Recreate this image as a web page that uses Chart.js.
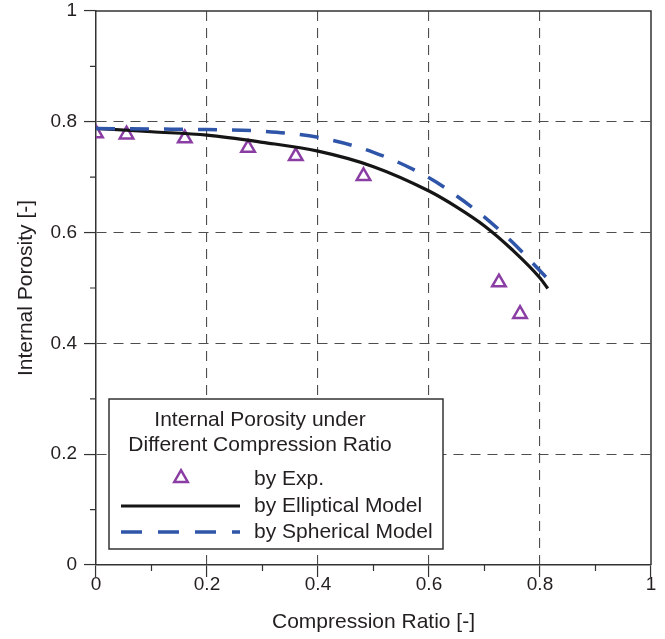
<!DOCTYPE html>
<html>
<head>
<meta charset="utf-8">
<title>Internal Porosity vs Compression Ratio</title>
<script src="https://cdn.jsdelivr.net/npm/chart.js@4/dist/chart.umd.min.js"></script>
<style>
    body { margin: 0; background: #fff; }
    canvas { display: block; }
</style>
</head>
<body>
<canvas id="porosityChart" width="665" height="639"></canvas>
<script>
// Measured points
const expRatio = [0, 0.055, 0.160, 0.274, 0.360, 0.482, 0.726, 0.764];
const expPorosity = [0.779, 0.777, 0.770, 0.753, 0.738, 0.702, 0.510, 0.453];

// Model curves
const ellipRatio = [0, 0.1, 0.2, 0.3, 0.4, 0.5, 0.6, 0.65, 0.7, 0.75, 0.8, 0.814];
const ellipPorosity = [0.788, 0.782, 0.776, 0.763, 0.747, 0.719, 0.675, 0.646, 0.612, 0.569, 0.518, 0.499];
const spherRatio = [0, 0.1, 0.2, 0.3, 0.4, 0.5, 0.6, 0.65, 0.7, 0.75, 0.8, 0.818];
const spherPorosity = [0.788, 0.787, 0.786, 0.783, 0.772, 0.745, 0.699, 0.666, 0.628, 0.583, 0.531, 0.512];

const majorTicks = [0, 0.2, 0.4, 0.6, 0.8, 1];
const minorTicks = [0.1, 0.3, 0.5, 0.7, 0.9];

const legendTitle = ['Internal Porosity under', 'Different Compression Ratio'];
const legendLabels = ['by Exp.', 'by Elliptical Model', 'by Spherical Model'];

const TEXT = '#231f20';
const AXIS = '#333333';
const PURPLE = '#8a3ea3';
const BLUE = '#2f55a9';
const BLACK = '#151515';
const FONT = '"Liberation Sans", Arial, sans-serif';

const toPoints = (xs, ys) => xs.map((x, i) => ({ x: x, y: ys[i] }));

function triangle(ctx, x, y, r) {
    ctx.beginPath();
    for (let k = 0; k < 3; k++) {
        const a = k * 2 * Math.PI / 3;
        const px = x + Math.sin(a) * r;
        const py = y - Math.cos(a) * r;
        if (k === 0) ctx.moveTo(px, py); else ctx.lineTo(px, py);
    }
    ctx.closePath();
    ctx.stroke();
}

// frame, minor ticks and the boxed legend
const decorations = {
    id: 'decorations',
    afterDatasetsDraw(chart) {
        const { ctx, chartArea: a, scales: { x, y } } = chart;
        ctx.save();

        ctx.strokeStyle = AXIS;
        ctx.lineWidth = 1.5;
        ctx.setLineDash([]);
        ctx.beginPath();
        ctx.moveTo(a.left, a.top);
        ctx.lineTo(a.right, a.top);
        ctx.lineTo(a.right, a.bottom);
        ctx.stroke();

        ctx.lineWidth = 1.2;
        minorTicks.forEach(v => {
            const px = x.getPixelForValue(v);
            const py = y.getPixelForValue(v);
            ctx.beginPath();
            ctx.moveTo(px, a.bottom);
            ctx.lineTo(px, a.bottom + 6);
            ctx.moveTo(a.left, py);
            ctx.lineTo(a.left - 6, py);
            ctx.stroke();
        });

        // legend box
        const bx = 109, by = 399, bw = 334, bh = 150;
        ctx.fillStyle = '#fff';
        ctx.fillRect(bx, by, bw, bh);
        ctx.strokeStyle = AXIS;
        ctx.lineWidth = 1.5;
        ctx.strokeRect(bx, by, bw, bh);

        ctx.fillStyle = TEXT;
        ctx.font = '21px ' + FONT;
        ctx.textBaseline = 'alphabetic';
        ctx.textAlign = 'center';
        ctx.fillText(legendTitle[0], 260, 426);
        ctx.fillText(legendTitle[1], 260, 451);

        ctx.textAlign = 'left';
        ctx.fillText(legendLabels[0], 254, 485);
        ctx.fillText(legendLabels[1], 254, 512);
        ctx.fillText(legendLabels[2], 254, 538);

        ctx.strokeStyle = PURPLE;
        ctx.lineWidth = 2.5;
        triangle(ctx, 181, 478, 7.8);

        ctx.strokeStyle = BLACK;
        ctx.lineWidth = 3.2;
        ctx.beginPath();
        ctx.moveTo(121, 506);
        ctx.lineTo(240, 506);
        ctx.stroke();

        ctx.strokeStyle = BLUE;
        ctx.lineWidth = 3.5;
        ctx.setLineDash([21, 16]);
        ctx.beginPath();
        ctx.moveTo(121, 532);
        ctx.lineTo(240, 532);
        ctx.stroke();

        ctx.restore();
    }
};

const gridColor = c => (c.tick && (c.tick.value === 0 || c.tick.value === 1)) ? 'rgba(0,0,0,0)' : '#4d4d4d';

const axisCommon = {
    type: 'linear',
    min: 0,
    max: 1,
    border: { display: true, color: AXIS, width: 1.5, dash: [10, 7] },
    grid: {
        color: gridColor,
        lineWidth: 1.1,
        tickColor: AXIS,
        tickWidth: 1.2,
        tickLength: 12
    },
    ticks: {
        stepSize: 0.2,
        color: TEXT,
        font: { family: FONT, size: 19 },
        callback: v => String(+v.toFixed(1))
    },
    title: {
        display: true,
        color: TEXT,
        font: { family: FONT, size: 21 }
    }
};

new Chart(document.getElementById('porosityChart'), {
    type: 'line',
    data: {
        datasets: [
            {
                label: legendLabels[0],
                data: toPoints(expRatio, expPorosity),
                showLine: false,
                pointStyle: 'triangle',
                pointRadius: 7.8,
                pointBorderWidth: 2.5,
                pointBorderColor: PURPLE,
                pointBackgroundColor: 'rgba(0,0,0,0)',
                order: 3
            },
            {
                label: legendLabels[1],
                data: toPoints(ellipRatio, ellipPorosity),
                borderColor: BLACK,
                borderWidth: 3.2,
                pointRadius: 0,
                cubicInterpolationMode: 'monotone',
                fill: false,
                order: 2
            },
            {
                label: legendLabels[2],
                data: toPoints(spherRatio, spherPorosity),
                borderColor: BLUE,
                borderWidth: 3.5,
                borderDash: [19, 15],
                pointRadius: 0,
                cubicInterpolationMode: 'monotone',
                fill: false,
                order: 1
            }
        ]
    },
    options: {
        responsive: false,
        animation: false,
        layout: { padding: { left: 0, top: 11, right: 14, bottom: 0 } },
        plugins: {
            legend: { display: false },
            tooltip: { enabled: false }
        },
        scales: {
            x: {
                ...axisCommon,
                position: 'bottom',
                ticks: { ...axisCommon.ticks, padding: -4 },
                title: { ...axisCommon.title, text: 'Compression Ratio [-]', padding: { top: 0, bottom: 4 } },
                afterFit: scale => {
                    scale.height = 74;
                    scale.paddingLeft = 0;
                    scale.paddingRight = 0;
                }
            },
            y: {
                ...axisCommon,
                position: 'left',
                ticks: { ...axisCommon.ticks, padding: 7 },
                title: { ...axisCommon.title, text: 'Internal Porosity [-]', padding: { top: 14, bottom: 0 } },
                afterFit: scale => {
                    scale.width = 96;
                    scale.paddingTop = 0;
                    scale.paddingBottom = 0;
                }
            }
        }
    },
    plugins: [decorations]
});
</script>
</body>
</html>
